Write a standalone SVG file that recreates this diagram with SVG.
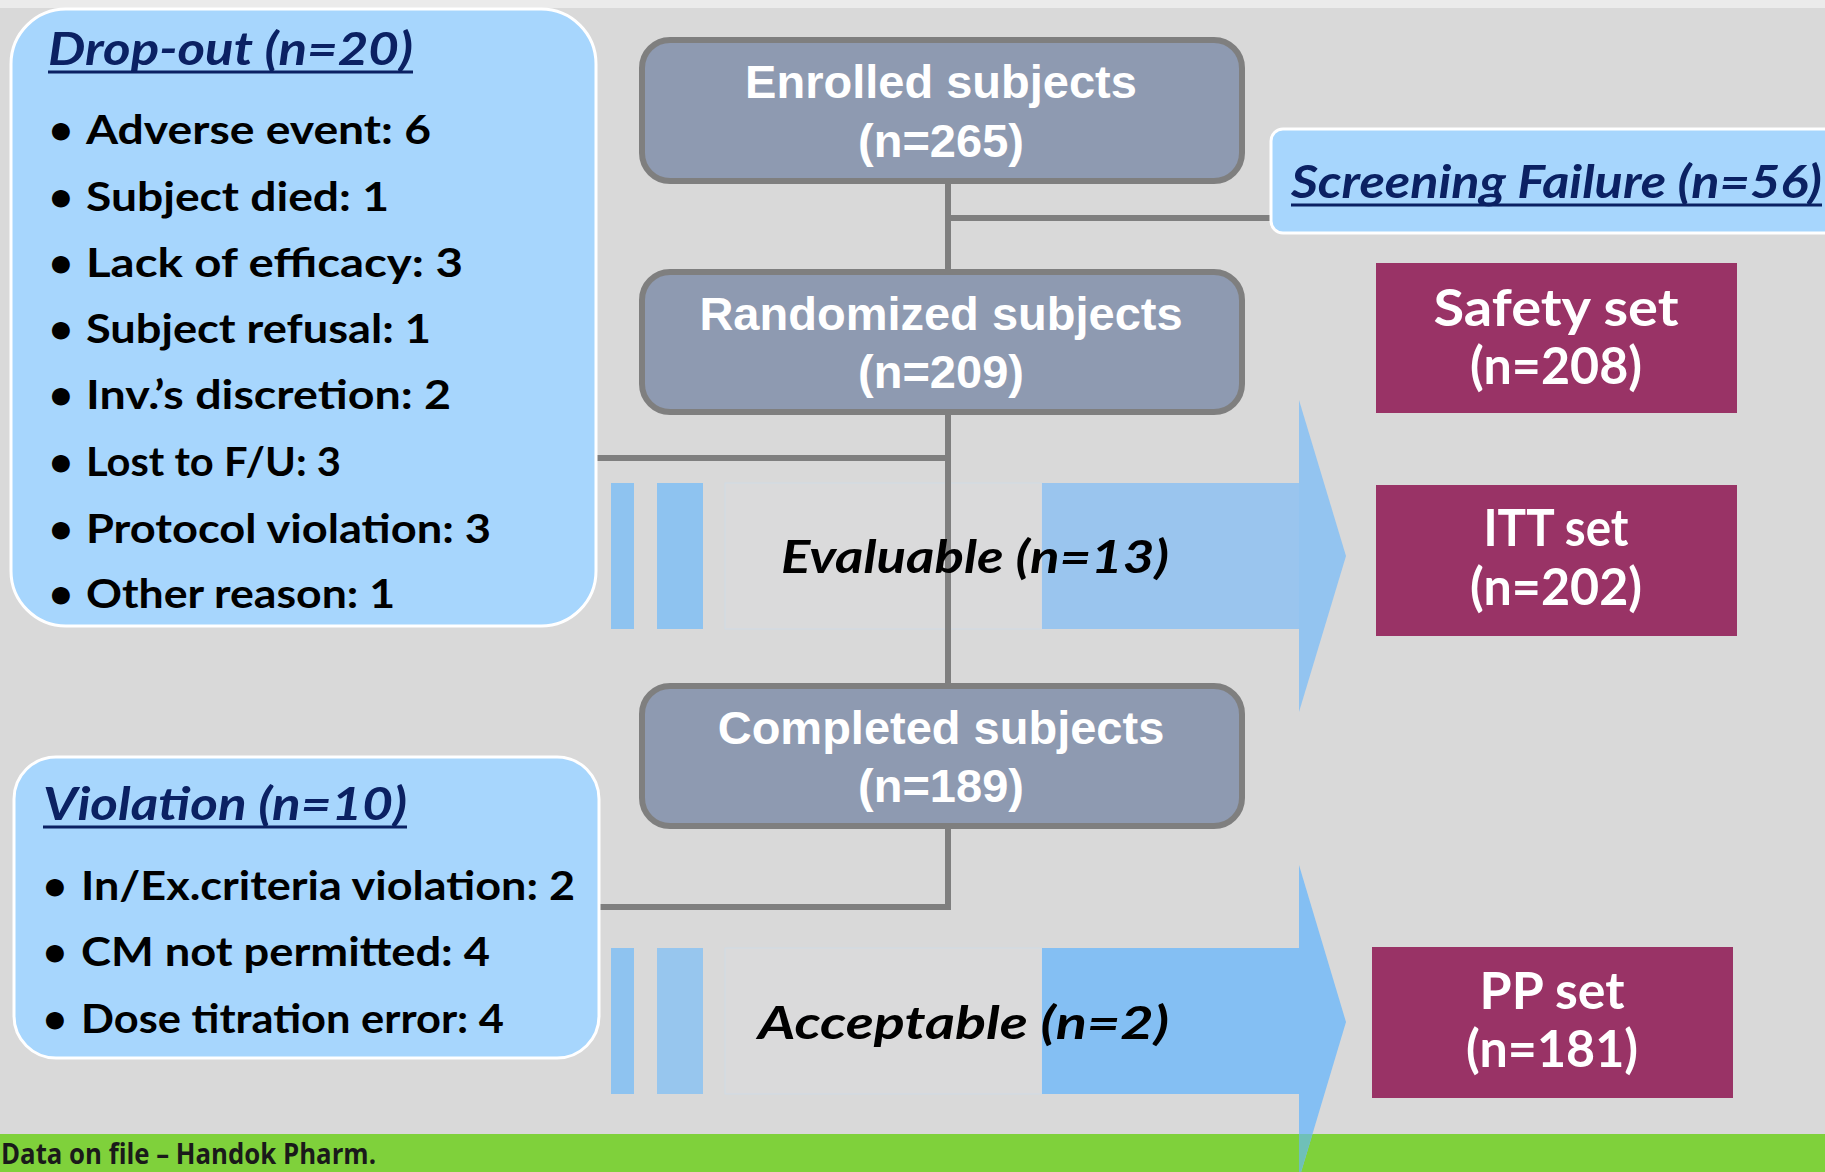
<svg xmlns="http://www.w3.org/2000/svg" width="1825" height="1172" viewBox="0 0 1825 1172">
<style>
.bg{fill:#d9d9d9}
.info{fill:#a7d6fd;stroke:#ffffff;stroke-width:3}
.gbox{fill:#8e9ab1;stroke:#7f7f7f;stroke-width:6}
.mbox{fill:#993366}
.conn{stroke:#7f7f7f;stroke-width:6;fill:none}
.ttl{font-family:Lato,"Open Sans",sans-serif;font-weight:700;font-style:italic;font-size:45px;fill:#0b2163}
.ul{stroke:#0b2163;stroke-width:3}
.bul{font-family:Lato,"Open Sans",sans-serif;font-weight:700;font-size:41px;fill:#000}
.gt{font-family:"Liberation Sans",Arial,sans-serif;font-weight:700;font-size:47px;fill:#ffffff;text-anchor:middle}
.mt{font-family:Lato,"Open Sans",sans-serif;font-weight:700;font-size:52px;fill:#ffffff;text-anchor:middle}
.lbl{font-family:Lato,"Open Sans",sans-serif;font-weight:700;font-style:italic;font-size:46px;fill:#000}
.faint{fill:#dadadb;stroke:#d0dbe6;stroke-width:1}
</style>
<rect class="bg" x="0" y="0" width="1825" height="1172"/>
<rect x="0" y="0" width="1825" height="8" fill="#ebebeb"/>

<g id="band-evaluable">
<rect x="611" y="483" width="23" height="146" fill="#8ec3f0"/>
<rect x="657" y="483" width="46" height="146" fill="#8ec3f0"/>
<rect class="faint" x="725" y="483" width="317" height="146"/>
<rect x="1042" y="483" width="258" height="146" fill="#9ac5ee"/>
<polygon points="1299,400 1346,556 1299,712" fill="#93c4f0"/>
</g>
<g id="band-acceptable">
<rect x="611" y="948" width="23" height="146" fill="#8ec3f0"/>
<rect x="657" y="948" width="46" height="146" fill="#97c6ee"/>
<rect class="faint" x="725" y="948" width="317" height="146"/>
<rect x="1042" y="948" width="258" height="146" fill="#84bff3"/>
</g>

<g id="footer">
<rect x="0" y="1134" width="1825" height="38" fill="#7fd13b"/>
<polygon points="1299,865 1346,1022 1299,1179" fill="#84bff3"/>
<polygon points="1299,1134 1312.5,1134 1301,1172 1299,1172" fill="#6fc0b8"/>
<text x="1" y="1164" font-family="'Open Sans','Liberation Sans',sans-serif" font-weight="700" font-size="28" fill="#1a1a1a" textLength="375" lengthAdjust="spacingAndGlyphs">Data on file – Handok Pharm.</text>
</g>

<g id="connectors">
<line class="conn" x1="948" y1="183" x2="948" y2="270"/>
<line class="conn" x1="945" y1="218" x2="1272" y2="218"/>
<line class="conn" x1="948" y1="413" x2="948" y2="685"/>
<line class="conn" x1="596" y1="458" x2="951" y2="458"/>
<polyline class="conn" points="948,828 948,907 599,907"/>
</g>

<g id="dropout">
<rect class="info" x="11" y="9" width="585" height="617" rx="55"/>
<text class="ttl" x="48" y="65" textLength="365" lengthAdjust="spacingAndGlyphs">Drop-out (n=20)</text>
<line class="ul" x1="48" y1="72" x2="413" y2="72"/>
<g class="bul">
<text x="61" y="144" text-anchor="middle">•</text><text x="86" y="144" textLength="345" lengthAdjust="spacingAndGlyphs">Adverse event: 6</text>
<text x="61" y="211" text-anchor="middle">•</text><text x="86" y="211" textLength="303" lengthAdjust="spacingAndGlyphs">Subject died: 1</text>
<text x="61" y="277" text-anchor="middle">•</text><text x="86" y="277" textLength="377" lengthAdjust="spacingAndGlyphs">Lack of efficacy: 3</text>
<text x="61" y="343" text-anchor="middle">•</text><text x="86" y="343" textLength="345" lengthAdjust="spacingAndGlyphs">Subject refusal: 1</text>
<text x="61" y="409" text-anchor="middle">•</text><text x="86" y="409" textLength="365" lengthAdjust="spacingAndGlyphs">Inv.’s discretion: 2</text>
<text x="61" y="476" text-anchor="middle">•</text><text x="86" y="476" textLength="255" lengthAdjust="spacingAndGlyphs">Lost to F/U: 3</text>
<text x="61" y="543" text-anchor="middle">•</text><text x="86" y="543" textLength="405" lengthAdjust="spacingAndGlyphs">Protocol violation: 3</text>
<text x="61" y="608" text-anchor="middle">•</text><text x="86" y="608" textLength="309" lengthAdjust="spacingAndGlyphs">Other reason: 1</text>
</g>
</g>

<g id="violation">
<rect class="info" x="14" y="757" width="585" height="301" rx="42"/>
<text class="ttl" x="43" y="820" textLength="364" lengthAdjust="spacingAndGlyphs">Violation (n=10)</text>
<line class="ul" x1="43" y1="827" x2="407" y2="827"/>
<g class="bul">
<text x="55" y="900" text-anchor="middle">•</text><text x="81" y="900" textLength="494" lengthAdjust="spacingAndGlyphs">In/Ex.criteria violation: 2</text>
<text x="55" y="966" text-anchor="middle">•</text><text x="81" y="966" textLength="409" lengthAdjust="spacingAndGlyphs">CM not permitted: 4</text>
<text x="55" y="1033" text-anchor="middle">•</text><text x="81" y="1033" textLength="423" lengthAdjust="spacingAndGlyphs">Dose titration error: 4</text>
</g>
</g>

<g id="screening">
<rect class="info" x="1271" y="129" width="570" height="104" rx="12"/>
<text class="ttl" x="1291" y="198" textLength="531" lengthAdjust="spacingAndGlyphs">Screening Failure (n=56)</text>
<line class="ul" x1="1291" y1="205" x2="1822" y2="205"/>
</g>

<g id="enrolled">
<rect class="gbox" x="642" y="40" width="600" height="141" rx="28"/>
<text class="gt" x="941" y="98">Enrolled subjects</text>
<text class="gt" x="941" y="157">(n=265)</text>
</g>
<g id="randomized">
<rect class="gbox" x="642" y="272" width="600" height="140" rx="28"/>
<text class="gt" x="941" y="330">Randomized subjects</text>
<text class="gt" x="941" y="388">(n=209)</text>
</g>
<g id="completed">
<rect class="gbox" x="642" y="686" width="600" height="140" rx="28"/>
<text class="gt" x="941" y="744">Completed subjects</text>
<text class="gt" x="941" y="802">(n=189)</text>
</g>

<g id="evaluable">
<text class="lbl" x="781" y="573" textLength="388" lengthAdjust="spacingAndGlyphs">Evaluable (n=13)</text>
</g>
<g id="acceptable">
<text class="lbl" x="758" y="1039" textLength="411" lengthAdjust="spacingAndGlyphs">Acceptable (n=2)</text>
</g>

<g id="safety">
<rect class="mbox" x="1376" y="263" width="361" height="150"/>
<text class="mt" x="1556" y="326" textLength="245" lengthAdjust="spacingAndGlyphs">Safety set</text>
<text class="mt" x="1556" y="384" textLength="172" lengthAdjust="spacingAndGlyphs">(n=208)</text>
</g>
<g id="itt">
<rect class="mbox" x="1376" y="485" width="361" height="151"/>
<text class="mt" x="1556" y="546" textLength="145" lengthAdjust="spacingAndGlyphs">ITT set</text>
<text class="mt" x="1556" y="605" textLength="172" lengthAdjust="spacingAndGlyphs">(n=202)</text>
</g>
<g id="pp">
<rect class="mbox" x="1372" y="947" width="361" height="151"/>
<text class="mt" x="1552" y="1009" textLength="145" lengthAdjust="spacingAndGlyphs">PP set</text>
<text class="mt" x="1552" y="1067" textLength="172" lengthAdjust="spacingAndGlyphs">(n=181)</text>
</g>
</svg>
